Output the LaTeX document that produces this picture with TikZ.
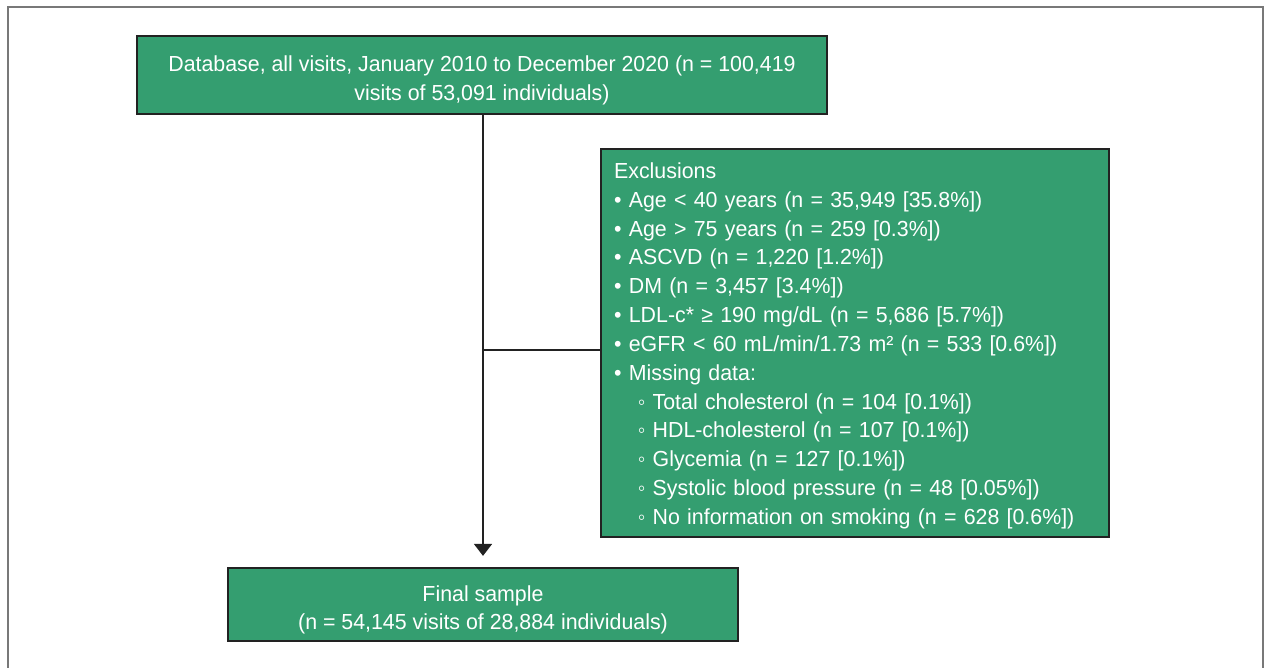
\documentclass[tikz,border=0pt]{standalone}
\usepackage{fontspec}
\setmainfont{Liberation Sans}[FakeStretch=0.98]
\usepackage{tikz}
\usetikzlibrary{arrows.meta,positioning,calc}
\definecolor{boxgreen}{RGB}{52,158,112}
\definecolor{boxline}{RGB}{34,34,34}
\definecolor{framegray}{RGB}{120,120,120}

\begin{document}
\begin{tikzpicture}[x=0.02cm,y=-0.02cm,
    every node/.style={font=\fontsize{12.4}{16.4}\selectfont, text=white},
    box/.style={draw=boxline, line width=1.3pt, fill=boxgreen, rectangle, align=center, inner sep=0pt},
    flow/.style={line width=1.1pt, draw=boxline}]

    \useasboundingbox (0,0) rectangle (1269,668);
    \draw[framegray, line width=0.8pt] (8,7) rectangle (1263,690);

    \node[box, minimum width=13.8cm, minimum height=1.56cm] (database) at (482,75)
      {\rule{0pt}{15pt}Database, all visits, January 2010 to December 2020 (n = 100,419\\ visits of 53,091 individuals)};

    \node[box, anchor=north west, minimum width=10.16cm, minimum height=7.76cm,
          text width=9.64cm, align=left] (exclusions) at (600,148)
      {\rule{0pt}{12pt}Exclusions\\
       • Age < 40 years (n = 35,949 [35.8\%])\\
       • Age > 75 years (n = 259 [0.3\%])\\
       • ASCVD (n = 1,220 [1.2\%])\\
       • DM (n = 3,457 [3.4\%])\\
       • LDL-c* ≥ 190 mg/dL (n = 5,686 [5.7\%])\\
       • eGFR < 60 mL/min/1.73 m² (n = 533 [0.6\%])\\
       • Missing data:\\
       \hspace*{13.5pt}◦ Total cholesterol (n = 104 [0.1\%])\\
       \hspace*{13.5pt}◦ HDL-cholesterol (n = 107 [0.1\%])\\
       \hspace*{13.5pt}◦ Glycemia (n = 127 [0.1\%])\\
       \hspace*{13.5pt}◦ Systolic blood pressure (n = 48 [0.05\%])\\
       \hspace*{13.5pt}◦ No information on smoking (n = 628 [0.6\%])};

    \node[box, minimum width=10.2cm, minimum height=1.46cm] (final) at (483,604.5)
      {\rule{0pt}{15pt}Final sample\\ (n = 54,145 visits of 28,884 individuals)};

    \coordinate (branch) at (483,350);
    \draw[flow, -{Triangle[width=0.36cm,length=0.24cm]}, shorten >=0.22cm]
      (database.south -| branch) -- (final.north -| branch);
    \draw[flow] (branch) -- (branch -| exclusions.west);
\end{tikzpicture}
\end{document}
